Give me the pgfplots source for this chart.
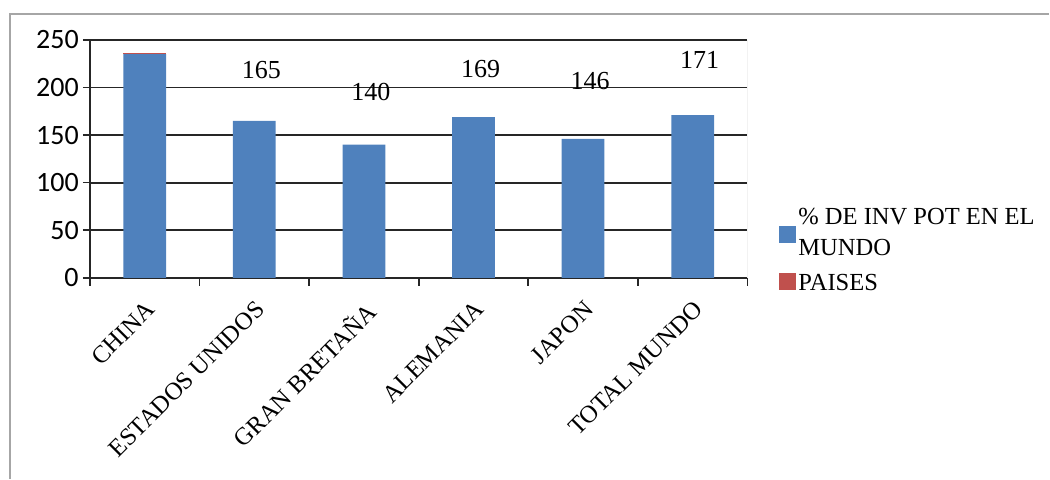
\documentclass[border=0pt]{standalone}
\usepackage{pgfplots}
\pgfplotsset{compat=1.18}
\usepackage{fontspec}
\setmainfont{Liberation Serif}
\newfontfamily\carlito{Carlito}
\definecolor{barblue}{HTML}{4F81BD}
\definecolor{barred}{HTML}{C0504D}
\begin{document}
\begin{tikzpicture}[x=0.75pt,y=0.75pt]
\path (0,0) rectangle (1050,479);
\draw[black!35, line width=1.1pt] (10,0) -- (10,465) -- (1050,465);
\begin{axis}[
  at={(67.5pt,150.75pt)}, anchor=south west,
  scale only axis, width=493.5pt, height=178.5pt,
  ybar stacked, bar width=0.39,
  xmin=-0.5, xmax=5.5, ymin=0, ymax=250,
  axis x line=bottom, axis y line=left,
  axis line style={-, black!85, line width=1.3pt},
  xtick={0,...,5},
  xticklabels={CHINA, ESTADOS UNIDOS, GRAN BRETAÑA, ALEMANIA, JAPON, TOTAL MUNDO},
  major x tick style={draw=none},
  minor xtick={-0.5,0.5,...,5.5},
  minor x tick style={black!85, line width=1.2pt},
  minor tick length=6pt,
  ytick={0,50,...,250},
  major y tick style={black!85, line width=1.2pt},
  major tick length=5.25pt,
  tick align=outside,
  ymajorgrids, grid style={black!85, line width=1.3pt},
  xticklabel style={font=\fontsize{18.5}{18.5}\selectfont, yshift=-8pt, rotate=45, anchor=north east, inner sep=2pt},
  yticklabel style={font=\carlito\fontsize{21}{21}\selectfont, inner sep=3pt},
  /pgf/number format/assume math mode=true,
  legend style={at={(1.041,0.115)}, anchor=west, draw=none, fill=none,
    font=\fontsize{18.4}{23}\selectfont, row sep=15pt},
  legend cell align=left,
  legend image code/.code={\fill[#1,draw=none] (0pt,-5pt) rectangle (12.8pt,7.8pt);},
]
\addplot[fill=barblue, draw=none,
  legend image code/.code={\fill[barblue] (0pt,-11pt) rectangle (12.8pt,1.8pt);}]
  coordinates {(0,235) (1,165) (2,140) (3,169) (4,146) (5,171)};
\addlegendentry{\raisebox{6.75pt}{$\vcenter{\hbox{\% DE INV POT EN EL}\hbox{MUNDO}}$}}
\addplot[fill=barred, draw=none] coordinates {(0,1.2) (1,0) (2,0) (3,0) (4,0) (5,0)};
\addlegendentry{PAISES}
\draw[black!15, line width=1pt] (rel axis cs:1,0) -- (rel axis cs:1,1);
\node[font=\fontsize{19.5}{19.5}\selectfont] at (axis cs:1.064,218.5) {165};
\node[font=\fontsize{19.5}{19.5}\selectfont] at (axis cs:2.064,195.5) {140};
\node[font=\fontsize{19.5}{19.5}\selectfont] at (axis cs:3.064,219.8) {169};
\node[font=\fontsize{19.5}{19.5}\selectfont] at (axis cs:4.064,207) {146};
\node[font=\fontsize{19.5}{19.5}\selectfont] at (axis cs:5.064,229) {171};
\end{axis}
\end{tikzpicture}
\end{document}
